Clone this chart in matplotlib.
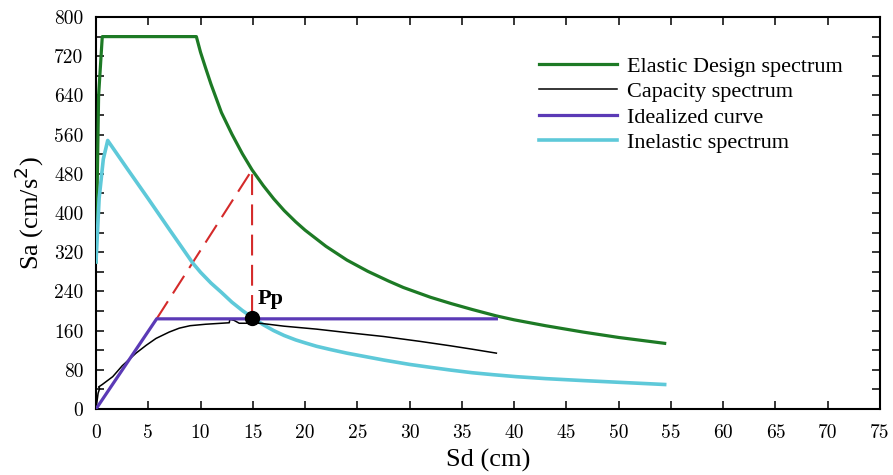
import matplotlib
matplotlib.use("Agg")
import matplotlib.pyplot as plt
from matplotlib.ticker import MultipleLocator

# ---- data ----
elastic_sd = [0.0, 0.25, 0.6, 9.6, 10.0, 10.5, 11.0, 11.5, 12.0, 13.0, 14.0, 14.93, 16.0,
              17.0, 18.0, 19.1, 20.0, 22.0, 24.0, 26.0, 28.0, 29.4, 32.0, 34.0, 36.0,
              38.3, 40.0, 43.0, 46.6, 50.0, 54.4]
elastic_sa = [300, 640, 760, 760, 728, 695, 663, 634, 605, 561, 521, 488, 456,
              429, 405, 382, 365, 332, 304, 281, 261, 248, 228, 215, 203,
              190, 182, 170, 157, 146, 134]

capacity_sd = [0.0, 0.2, 0.35, 0.25, 0.6, 1.6, 2.5, 3.83, 4.8, 5.74, 7.0, 7.97, 9.0,
               10.5, 12.75, 12.8, 13.2, 13.7, 14.85, 15.7, 18.0, 21.1, 24.0, 27.5,
               31.0, 33.9, 36.0, 38.3]
capacity_sa = [0, 32, 42, 45, 50, 66, 88, 114, 130, 144, 157, 165, 170,
               173, 176, 183, 181, 175, 175, 175, 169, 163, 156, 148,
               138, 129, 122, 114]

ideal_sd = [0.0, 5.8, 38.3]
ideal_sa = [0, 184, 184]

inelastic_sd = [0.0, 0.3, 0.7, 1.12, 3.0, 5.0, 7.0, 8.5, 9.25, 10.0, 11.0, 12.0, 13.0,
                14.0, 15.0, 16.0, 17.0, 18.0, 19.1, 20.0, 21.1, 22.5, 24.0, 26.0, 27.5,
                30.0, 32.0, 33.9, 36.0, 38.0, 40.2, 43.0, 46.6, 50.0, 54.4]
inelastic_sa = [300, 430, 510, 548, 490, 429, 367, 321, 298, 279, 257, 238, 218,
                201, 186, 172, 160, 150, 141, 135, 128, 121, 114, 106, 100,
                91, 85, 79.5, 74, 70, 66, 62, 58, 54.5, 50]

dash_sd = [5.8, 14.93, 14.93]
dash_sa = [184, 488, 190]

pp_sd, pp_sa = 14.9, 185

labels = ["Elastic Design spectrum", "Capacity spectrum", "Idealized curve", "Inelastic spectrum"]

serif = ["Liberation Serif", "DejaVu Serif"]
plt.rcParams["font.family"] = serif

fig = plt.figure(figsize=(8.93, 4.75), dpi=100)
ax = fig.add_axes([96/893, 66/475, 784/893, 392/475])

ax.plot(dash_sd, dash_sa, color="#d42a2a", lw=1.5, dashes=(10, 4.5), zorder=2)
ax.plot(elastic_sd, elastic_sa, color="#1d7a25", lw=2.3, label=labels[0], zorder=3,
        solid_joinstyle="round")
ax.plot(capacity_sd, capacity_sa, color="black", lw=1.1, label=labels[1], zorder=4,
        solid_joinstyle="round")
ax.plot(ideal_sd, ideal_sa, color="#5b3ab6", lw=2.3, label=labels[2], zorder=5)
ax.plot(inelastic_sd, inelastic_sa, color="#5ec9d9", lw=2.6, label=labels[3], zorder=3,
        solid_joinstyle="round")
ax.plot([pp_sd], [pp_sa], "o", color="black", ms=10, zorder=6)
ax.text(pp_sd + 0.6, pp_sa + 19, "Pp", fontsize=16, fontweight="bold", family=serif,
        ha="left", va="bottom")

ax.set_xlim(0, 75)
ax.set_ylim(0, 800)
ax.xaxis.set_major_locator(MultipleLocator(5))
ax.yaxis.set_major_locator(MultipleLocator(80))
ax.yaxis.set_minor_locator(MultipleLocator(40))
ax.tick_params(which="both", direction="in", top=True, right=True, width=1.1)
ax.tick_params(which="major", length=6, labelsize=14)
ax.tick_params(axis="x", which="major", pad=11)
ax.tick_params(axis="y", which="major", pad=9)
ax.tick_params(which="minor", length=6)
ax.tick_params(axis="x", which="minor", top=False, bottom=False)
for lab in ax.get_xticklabels() + ax.get_yticklabels():
    lab.set_family(["cmr10", "DejaVu Serif"])
for s in ax.spines.values():
    s.set_linewidth(1.5)

ax.set_xlabel("Sd (cm)", fontsize=19, labelpad=5)
ax.set_ylabel("Sa (cm/s$^2$)", fontsize=19, labelpad=6)

leg = ax.legend(loc="upper left", bbox_to_anchor=(0.565, 0.90), frameon=False,
                fontsize=16, handlelength=3.5, handletextpad=0.45, labelspacing=0.22,
                borderpad=0, borderaxespad=0)

fig.savefig("out.png", dpi=100)
